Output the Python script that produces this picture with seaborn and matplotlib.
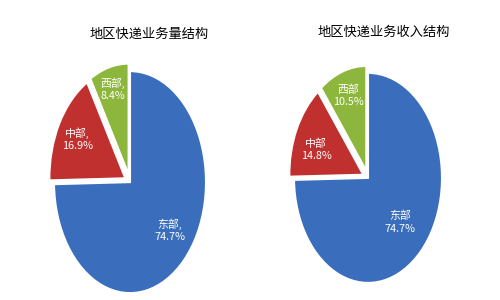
import numpy as np
import matplotlib
matplotlib.use("Agg")
import matplotlib.pyplot as plt
import seaborn as sns

sns.set_theme(style="white")
plt.rcParams['font.family'] = ['Noto Sans CJK SC', 'DejaVu Sans']

regions = ["东部", "中部", "西部"]
volume_share = [74.7, 16.9, 8.4]
revenue_share = [74.7, 14.8, 10.5]
titles = ["地区快递业务量结构", "地区快递业务收入结构"]
colors = ["#3A6EBD", "#BF302E", "#8DB63C"]

fig = plt.figure(figsize=(5, 3), dpi=100)
fig.patch.set_facecolor("white")

# axes placed so pies are elliptical like the reference
ax1 = fig.add_axes([0.108, 0.023, 0.304, 0.74])
ax2 = fig.add_axes([0.588, 0.057, 0.296, 0.70])

def draw(ax, vals, sep, title, title_x, title_y, radii, angoff):
    labels = [f"{r}{sep}\n{v}%" for r, v in zip(regions, vals)]
    wedges, _ = ax.pie(vals, colors=colors, startangle=90, counterclock=False,
                       explode=[0, 0.07, 0.07],
                       wedgeprops=dict(edgecolor="white", linewidth=1.5))
    for w, lab, rr, da in zip(wedges, labels, radii, angoff):
        ang = np.deg2rad((w.theta1 + w.theta2) / 2 + da)
        cx, cy = w.center
        ax.text(cx + rr * np.cos(ang), cy + rr * np.sin(ang), lab,
                ha="center", va="center", color="white", fontsize=7.8,
                linespacing=1.3)
        w.set_clip_on(False)
    ax.set_aspect("auto")
    ax.set_xlim(-1, 1)
    ax.set_ylim(-1, 1)
    ax.axis("off")
    fig.text(title_x, title_y, title, ha="center", va="center", fontsize=9.5,
             color="#000000")

draw(ax1, volume_share, ",", titles[0], 0.298, 0.887, [0.68, 0.72, 0.8], [5, 0, 0])
draw(ax2, revenue_share, "", titles[1], 0.768, 0.893, [0.6, 0.68, 0.76], [0, 5, 0])

fig.savefig("out.png", dpi=100, facecolor="white")
